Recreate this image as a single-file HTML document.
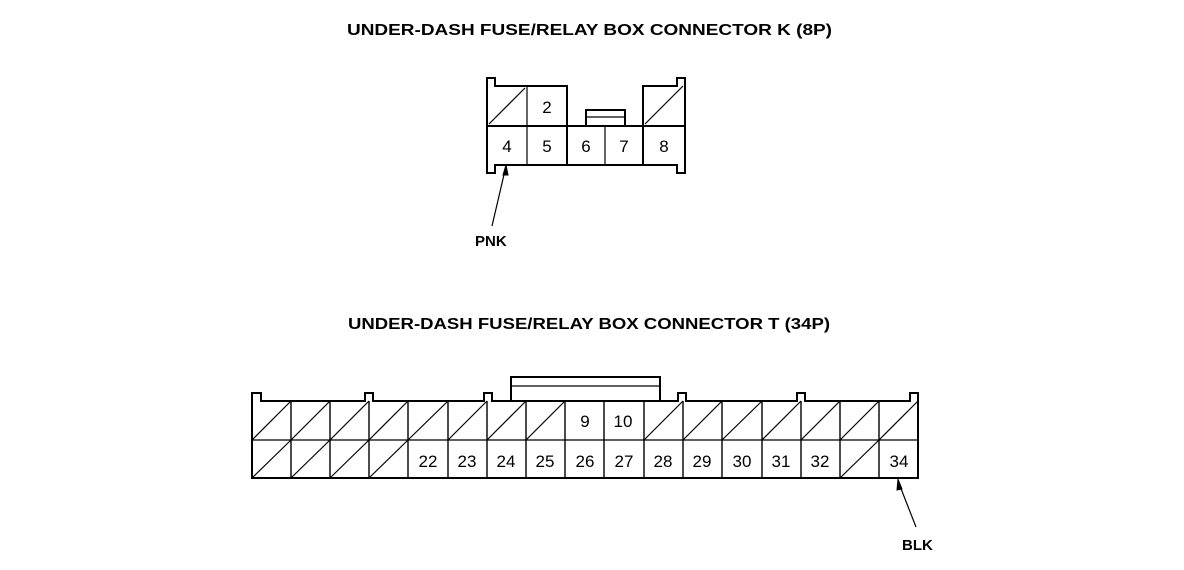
<!DOCTYPE html>
<html><head><meta charset="utf-8"><style>html,body{margin:0;padding:0;background:#fff}svg{display:block}</style></head>
<body>
<svg width="1184" height="570" viewBox="0 0 1184 570" xmlns="http://www.w3.org/2000/svg" font-family="Liberation Sans, sans-serif">
<rect width="1184" height="570" fill="#fff"/>
<text x="347" y="35" font-size="16" font-weight="bold" textLength="485" lengthAdjust="spacingAndGlyphs">UNDER-DASH FUSE/RELAY BOX CONNECTOR K (8P)</text>
<text x="348" y="329" font-size="16" font-weight="bold" textLength="482" lengthAdjust="spacingAndGlyphs">UNDER-DASH FUSE/RELAY BOX CONNECTOR T (34P)</text>

<!-- Connector K -->
<g stroke="#000" fill="none">
<path d="M567,126 V86 H495 V78 H487 V173 H495 V165 H677 V173 H685 V78 H677 V86 H643 V126" stroke-width="2"/>
<line x1="487" y1="126" x2="685" y2="126" stroke-width="2"/>
<line x1="567" y1="86" x2="567" y2="165" stroke-width="2"/>
<line x1="643" y1="86" x2="643" y2="165" stroke-width="2"/>
<line x1="527" y1="86" x2="527" y2="165" stroke-width="1.2"/>
<line x1="605" y1="126" x2="605" y2="165" stroke-width="1.2"/>
<rect x="586" y="110" width="39" height="16" stroke-width="2"/>
<line x1="586" y1="117" x2="625" y2="117" stroke-width="1.2"/>
<line x1="489" y1="124" x2="525" y2="88" stroke-width="1.2"/>
<line x1="645" y1="124" x2="683" y2="86" stroke-width="1.2"/>
<line x1="506" y1="166" x2="492" y2="226" stroke-width="1.2"/>
<polygon points="506,165 503,175 508,175" fill="#000"/>
</g>
<g font-size="17" text-anchor="middle">
<text x="547" y="113">2</text>
<text x="507" y="152">4</text>
<text x="547" y="152">5</text>
<text x="586" y="152">6</text>
<text x="624" y="152">7</text>
<text x="664" y="152">8</text>
</g>
<text x="475" y="246" font-size="15" font-weight="bold">PNK</text>

<!-- Connector T -->
<g stroke="#000" fill="none">
<path d="M252,393 H261 V401 H365 V393 H373 V401 H484 V393 H492 V401 H678 V393 H686 V401 H797 V393 H805 V401 H910 V393 H918 V478 H252 Z" stroke-width="2"/>
<rect x="511" y="377" width="149" height="24" stroke-width="2"/>
<line x1="511" y1="386" x2="660" y2="386" stroke-width="1.2"/>
<line x1="252" y1="440" x2="918" y2="440" stroke-width="1.2"/>
<g stroke-width="1.4">
<line x1="291" y1="401" x2="291" y2="478"/><line x1="330" y1="401" x2="330" y2="478"/>
<line x1="369" y1="401" x2="369" y2="478"/><line x1="408" y1="401" x2="408" y2="478"/>
<line x1="448" y1="401" x2="448" y2="478"/><line x1="644" y1="401" x2="644" y2="478"/>
<line x1="762" y1="401" x2="762" y2="478"/><line x1="879" y1="401" x2="879" y2="478"/>
<line x1="487" y1="401" x2="487" y2="478"/><line x1="526" y1="401" x2="526" y2="478"/>
<line x1="565" y1="401" x2="565" y2="478"/><line x1="604" y1="401" x2="604" y2="478"/>
<line x1="683" y1="401" x2="683" y2="478"/><line x1="722" y1="401" x2="722" y2="478"/>
<line x1="801" y1="401" x2="801" y2="478"/><line x1="840" y1="401" x2="840" y2="478"/>
</g>
<g stroke-width="1.2">
<line x1="252" y1="440" x2="291" y2="401"/><line x1="291" y1="440" x2="330" y2="401"/>
<line x1="330" y1="440" x2="369" y2="401"/><line x1="369" y1="440" x2="408" y2="401"/>
<line x1="408" y1="440" x2="448" y2="401"/><line x1="448" y1="440" x2="487" y2="401"/>
<line x1="487" y1="440" x2="526" y2="401"/><line x1="526" y1="440" x2="565" y2="401"/>
<line x1="644" y1="440" x2="683" y2="401"/><line x1="683" y1="440" x2="722" y2="401"/>
<line x1="722" y1="440" x2="762" y2="401"/><line x1="762" y1="440" x2="801" y2="401"/>
<line x1="801" y1="440" x2="840" y2="401"/><line x1="840" y1="440" x2="879" y2="401"/>
<line x1="879" y1="440" x2="918" y2="401"/>
<line x1="252" y1="478" x2="291" y2="440"/><line x1="291" y1="478" x2="330" y2="440"/>
<line x1="330" y1="478" x2="369" y2="440"/><line x1="369" y1="478" x2="408" y2="440"/>
<line x1="840" y1="478" x2="879" y2="440"/>
<line x1="898" y1="481" x2="916" y2="527"/>
</g>
<polygon points="898,479 897,490 902,489" fill="#000"/>
</g>
<g font-size="17" text-anchor="middle">
<text x="585" y="427">9</text>
<text x="623" y="427">10</text>
<text x="428" y="467">22</text>
<text x="467" y="467">23</text>
<text x="506" y="467">24</text>
<text x="545" y="467">25</text>
<text x="585" y="467">26</text>
<text x="624" y="467">27</text>
<text x="663" y="467">28</text>
<text x="702" y="467">29</text>
<text x="742" y="467">30</text>
<text x="781" y="467">31</text>
<text x="820" y="467">32</text>
<text x="899" y="467">34</text>
</g>
<text x="902" y="550" font-size="15" font-weight="bold">BLK</text>
</svg>
</body></html>
